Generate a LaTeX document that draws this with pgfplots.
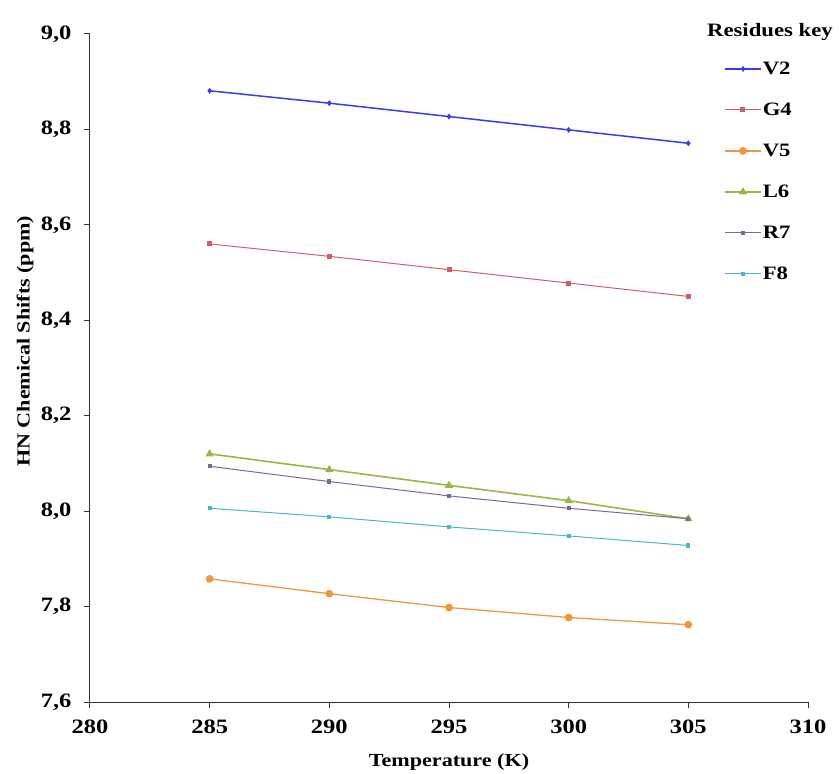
\documentclass[border=0pt]{standalone}
\usepackage{fontspec}
\setmainfont{Liberation Serif}[FakeStretch=1.2]
\usepackage{pgfplots}
\pgfplotsset{compat=1.18}
\definecolor{cVtwo}{RGB}{60,60,230}
\definecolor{cGfour}{RGB}{205,95,105}
\definecolor{cVfive}{RGB}{240,150,60}
\definecolor{cLsix}{RGB}{150,185,70}
\definecolor{cRseven}{RGB}{120,105,150}
\definecolor{cFeight}{RGB}{80,180,200}
\begin{document}
\begin{tikzpicture}
\begin{axis}[
  scale only axis, width=718bp, height=668bp,
  xmin=280, xmax=310, ymin=7.6, ymax=9.0,
  xtick={280,285,290,295,300,305,310},
  ytick={7.6,7.8,8.0,8.2,8.4,8.6,8.8,9.0},
  axis x line=bottom, axis y line=left,
  axis line style={-, line width=1bp, black!80},
  tick align=outside, major tick length=6bp,
  tick style={line width=1bp, black!80},
  /pgf/number format/assume math mode=true,
  ticklabel style={font=\fontsize{20.5}{20.5}\selectfont\bfseries},
  yticklabel style={xshift=-9bp, /pgf/number format/fixed, /pgf/number format/fixed zerofill, /pgf/number format/precision=1, /pgf/number format/use comma},
  xticklabel style={yshift=-8bp, /pgf/number format/fixed, /pgf/number format/precision=0, /pgf/number format/1000 sep={}},
  xlabel={Temperature (K)},
  ylabel={HN Chemical Shifts (ppm)},
  label style={font=\fontsize{18.5}{18.5}\selectfont\bfseries},
  xlabel style={at={(axis description cs:0.5,-0.09)}, anchor=center},
  ylabel style={at={(axis description cs:-0.0905,0.54)}, anchor=center},
  legend style={at={(0.883,0.96)}, anchor=north west, draw=none, fill=none, inner sep=0pt, row sep=25bp, font=\fontsize{19}{19}\selectfont\bfseries, nodes={inner sep=1bp}},
  legend cell align=left,
  legend image code/.code={\draw[mark repeat=2,mark phase=2] plot coordinates {(0bp,0bp) (18bp,0bp) (36bp,0bp)};},
  clip=false,
]
\addplot[color=cVtwo, line width=1.5bp, mark=diamond*, mark size=1.8bp] coordinates {(285,8.881) (290,8.855) (295,8.827) (300,8.799) (305,8.771)};
\addlegendentry{V2}
\addplot[color=cGfour, line width=1bp, mark=square*, mark size=2bp] coordinates {(285,8.560) (290,8.534) (295,8.506) (300,8.478) (305,8.450)};
\addlegendentry{G4}
\addplot[color=cVfive, line width=1.3bp, mark=*, mark size=3.2bp] coordinates {(285,7.858) (290,7.827) (295,7.798) (300,7.777) (305,7.762)};
\addlegendentry{V5}
\addplot[color=cLsix, line width=1.6bp, mark=triangle*, mark size=3.2bp] coordinates {(285,8.120) (290,8.087) (295,8.054) (300,8.022) (305,7.984)};
\addlegendentry{L6}
\addplot[color=cRseven, line width=1bp, mark=square*, mark size=1.6bp] coordinates {(285,8.094) (290,8.062) (295,8.032) (300,8.006) (305,7.984)};
\addlegendentry{R7}
\addplot[color=cFeight, line width=1bp, mark=square*, mark size=1.6bp] coordinates {(285,8.006) (290,7.988) (295,7.967) (300,7.948) (305,7.928)};
\addlegendentry{F8}
\node[font=\fontsize{19}{19}\selectfont\bfseries] at (axis description cs:0.947,1.003) {Residues key};
\end{axis}
\pgfresetboundingbox
\path ([xshift=-90bp,yshift=-72bp]current axis.south west) rectangle ([xshift=31bp,yshift=34bp]current axis.north east);
\end{tikzpicture}
\end{document}
